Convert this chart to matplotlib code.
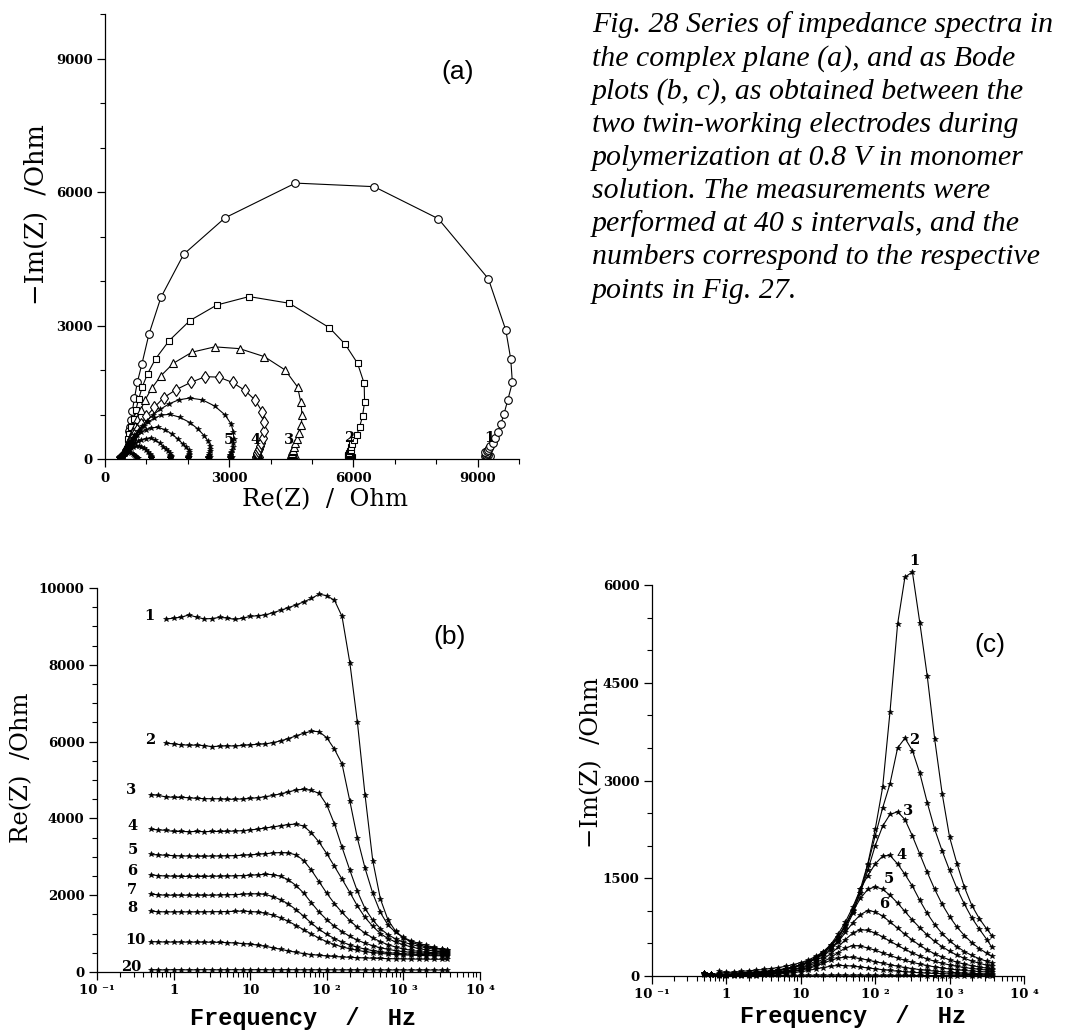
import numpy as np
import matplotlib
matplotlib.use("Agg")
import matplotlib.pyplot as plt
from matplotlib.ticker import MultipleLocator, FixedLocator, NullFormatter, LogLocator

nan = float("nan")

# ---------------- data ----------------
freq_hz = [0.5, 0.63, 0.79, 1.0, 1.26, 1.58, 2.0, 2.51, 3.16, 3.98, 5.01, 6.31, 7.94,
           10, 12.6, 15.8, 20, 25.1, 31.6, 39.8, 50.1, 63.1, 79.4,
           100, 126, 158, 200, 251, 316, 398, 501, 631, 794,
           1000, 1259, 1585, 1995, 2512, 3162, 3700]

re_1 = [nan, nan, 9190, 9215, 9240, 9300, 9240, 9195, 9205, 9235, 9220, 9180, 9215,
        9260, 9280, 9300, 9360, 9420, 9490, 9560, 9640, 9730, 9840,
        9800, 9680, 9260, 8050, 6500, 4600, 2900, 1900, 1350, 1060,
        890, 780, 710, 660, 625, 600, 580]
im_1 = [nan, nan, 70, 55, 60, 70, 80, 90, 100, 115, 130, 150, 175,
        205, 245, 300, 370, 470, 600, 780, 1020, 1330, 1720,
        2250, 2900, 4050, 5400, 6120, 6200, 5420, 4600, 3630, 2800,
        2130, 1720, 1360, 1080, 880, 720, 620]

re_2 = [nan, nan, 5960, 5940, 5920, 5905, 5910, 5895, 5870, 5880, 5890, 5885, 5900,
        5915, 5930, 5940, 5975, 6020, 6080, 6150, 6220, 6270, 6260,
        6100, 5800, 5420, 4450, 3480, 2700, 2050, 1550, 1220, 1030,
        900, 810, 745, 695, 640, 590, 560]
im_2 = [nan, nan, 50, 40, 45, 50, 55, 60, 70, 80, 95, 115, 140,
        170, 210, 260, 330, 420, 540, 720, 960, 1280, 1700,
        2150, 2580, 2950, 3500, 3650, 3460, 3110, 2660, 2250, 1920,
        1620, 1340, 1100, 890, 720, 560, 440]

re_3 = [4620, 4600, 4560, 4550, 4545, 4540, 4520, 4515, 4510, 4510, 4495, 4500, 4505,
        4520, 4540, 4565, 4600, 4640, 4690, 4740, 4760, 4730, 4650,
        4350, 3850, 3250, 2650, 2100, 1650, 1350, 1130, 970, 860,
        780, 720, 670, 630, 590, 560, 540]
im_3 = [40, 30, 25, 20, 30, 40, 45, 55, 60, 75, 90, 110, 135,
        170, 210, 270, 350, 450, 580, 760, 990, 1280, 1620,
        2000, 2300, 2480, 2520, 2400, 2150, 1870, 1590, 1330, 1100,
        910, 750, 620, 510, 420, 350, 305]

re_4 = [3720, 3700, 3690, 3660, 3660, 3655, 3660, 3655, 3660, 3660, 3665, 3670, 3680,
        3700, 3720, 3750, 3780, 3810, 3840, 3850, 3800, 3620, 3380,
        3080, 2750, 2420, 2070, 1720, 1420, 1190, 1000, 870, 780,
        710, 655, 610, 575, 545, 525, 515]
im_4 = [45, 30, 25, 20, 30, 35, 45, 50, 60, 75, 90, 110, 140,
        175, 220, 285, 370, 480, 640, 830, 1060, 1330, 1540,
        1720, 1840, 1850, 1720, 1560, 1380, 1160, 960, 790, 650,
        540, 450, 375, 315, 265, 225, 205]

re_5 = [3060, 3050, 3040, 3030, 3020, 3020, 3015, 3015, 3020, 3020, 3025, 3030, 3040,
        3050, 3065, 3080, 3100, 3110, 3100, 3050, 2900, 2650, 2350,
        2050, 1780, 1550, 1340, 1160, 1010, 890, 790, 710, 650,
        600, 565, 535, 515, 505, 498, 495]
im_5 = [50, 30, 20, 15, 25, 30, 40, 45, 55, 65, 80, 100, 125,
        160, 205, 265, 350, 460, 600, 780, 990, 1190, 1330,
        1370, 1330, 1240, 1120, 990, 860, 740, 630, 530, 450,
        380, 320, 270, 230, 195, 165, 150]

re_6 = [2530, 2510, 2500, 2495, 2490, 2490, 2490, 2490, 2495, 2495, 2500, 2505, 2510,
        2520, 2530, 2545, 2535, 2490, 2400, 2250, 2050, 1800, 1560,
        1360, 1190, 1050, 930, 830, 750, 685, 630, 590, 555,
        530, 510, 495, 482, 476, 472, 470]
im_6 = [45, 30, 20, 15, 20, 25, 30, 35, 45, 55, 65, 80, 100,
        130, 170, 230, 300, 400, 520, 670, 820, 940, 1005,
        985, 920, 830, 735, 640, 550, 470, 400, 340, 290,
        248, 212, 182, 158, 138, 120, 110]

re_7 = [2030, 2010, 2000, 2000, 2000, 2000, 2000, 2000, 2000, 2005, 2010, 2015, 2025,
        2035, 2035, 2020, 1960, 1880, 1770, 1620, 1450, 1270, 1110,
        980, 870, 780, 705, 645, 595, 558, 528, 505, 488,
        475, 465, 457, 451, 446, 442, 440]
im_7 = [40, 25, 20, 15, 20, 22, 25, 30, 35, 45, 55, 75, 95,
        120, 155, 200, 260, 340, 440, 560, 660, 712, 700,
        660, 600, 535, 470, 410, 355, 305, 262, 225, 195,
        170, 148, 130, 115, 102, 92, 86]

re_8 = [1585, 1570, 1565, 1565, 1565, 1565, 1565, 1565, 1570, 1570, 1575, 1580, 1585,
        1575, 1560, 1530, 1480, 1410, 1320, 1210, 1100, 990, 880,
        790, 715, 655, 605, 565, 530, 505, 485, 468, 455,
        445, 437, 431, 427, 424, 422, 420]
im_8 = [35, 25, 20, 15, 18, 20, 22, 25, 30, 38, 45, 60, 78,
        100, 130, 170, 220, 280, 360, 430, 468, 460, 430,
        395, 355, 315, 275, 240, 210, 183, 160, 140, 122,
        107, 95, 85, 76, 68, 62, 58]

re_9 = [1120, 1115, 1110, 1110, 1110, 1110, 1110, 1110, 1110, 1110, 1112, 1110, 1105,
        1095, 1075, 1045, 1000, 945, 880, 810, 740, 680, 630,
        585, 548, 518, 493, 472, 456, 443, 432, 423, 415,
        408, 401, 395, 390, 386, 383, 380]
im_9 = [30, 22, 18, 14, 15, 17, 20, 23, 27, 33, 42, 55, 70,
        90, 115, 150, 195, 240, 275, 290, 285, 268, 245,
        220, 196, 172, 150, 130, 113, 98, 86, 75, 66,
        58, 51, 45, 40, 36, 33, 31]

re_10 = [790, 785, 780, 780, 780, 778, 778, 777, 775, 772, 765, 755, 742,
         725, 700, 668, 630, 590, 550, 512, 480, 455, 435,
         418, 404, 392, 382, 373, 366, 359, 353, 348, 344,
         341, 338, 336, 334, 332, 331, 330]
im_10 = [25, 18, 14, 12, 12, 13, 15, 17, 20, 25, 32, 40, 52,
         66, 85, 108, 130, 150, 162, 160, 150, 138, 124,
         110, 97, 85, 74, 65, 57, 50, 44, 39, 35,
         31, 28, 25, 23, 21, 19, 18]

re_20 = [60, 55, 55, 60, 58, 55, 57, 60, 58, 56, 58, 60, 57,
         58, 60, 58, 57, 58, 60, 58, 57, 56, 58,
         57, 56, 55, 56, 55, 54, 55, 54, 53, 54,
         53, 52, 53, 52, 52, 51, 51]
im_20 = [10, 8, 6, 5, 6, 6, 7, 7, 8, 8, 9, 9, 10,
         10, 11, 11, 12, 12, 12, 12, 12, 12, 11,
         11, 10, 10, 9, 9, 8, 8, 7, 7, 6,
         6, 5, 5, 5, 4, 4, 4]

re_series = {"1": re_1, "2": re_2, "3": re_3, "4": re_4, "5": re_5, "6": re_6,
             "7": re_7, "8": re_8, "9": re_9, "10": re_10, "20": re_20}
im_series = {"1": im_1, "2": im_2, "3": im_3, "4": im_4, "5": im_5, "6": im_6,
             "7": im_7, "8": im_8, "9": im_9, "10": im_10, "20": im_20}

nyquist_curves = ["1", "2", "3", "4", "5", "6", "7", "8", "9", "10"]
bode_re_curves = ["1", "2", "3", "4", "5", "6", "7", "8", "10", "20"]
bode_im_curves = ["1", "2", "3", "4", "5", "6", "7", "8", "9", "10", "20"]

x_decade_ticks = [0.1, 1, 10, 100, 1000, 10000]
x_decade_labels = ["10 \u207b\u00b9", "1", "10", "10 \u00b2", "10 \u00b3", "10 \u2074"]

# curve-number annotations (text anchor points)
a_label_text = ["1", "2", "3", "4", "5"]
a_label_xy = [(9290, 470), (5895, 470), (4448, 434), (3644, 434), (3000, 434)]
b_label_text = ["1", "2", "3", "4", "5", "6", "7", "8", "10", "20"]
b_label_xy = [(0.49, 9260), (0.49, 6050), (0.28, 4750), (0.29, 3790), (0.29, 3185),
              (0.29, 2620), (0.29, 2145), (0.29, 1670), (0.32, 840), (0.28, 130)]
c_label_text = ["1", "2", "3", "4", "5", "6"]
c_label_xy = [(336, 6362), (336, 3622), (275, 2536), (229, 1857), (155, 1490), (133, 1107)]

caption_lines = [
    "Fig. 28 Series of impedance spectra in",
    "the complex plane (a), and as Bode",
    "plots (b, c), as obtained between the",
    "two twin-working electrodes during",
    "polymerization at 0.8 V in monomer",
    "solution. The measurements were",
    "performed at 40 s intervals, and the",
    "numbers correspond to the respective",
    "points in Fig. 27.",
]

# ---------------- figure ----------------
W, H = 1067, 1036
fig = plt.figure(figsize=(W / 100, H / 100), dpi=100)


def fx(px):
    return px / W


def fy(py):
    return 1 - py / H


TICKFONT = dict(family="DejaVu Serif", weight="bold", size=9.5)
NUMFONT = dict(family="DejaVu Serif", weight="bold", size=10.5)


def style_axes(ax):
    for s in ("top", "right"):
        ax.spines[s].set_visible(False)
    for s in ("left", "bottom"):
        ax.spines[s].set_linewidth(0.9)
    ax.tick_params(which="major", direction="out", length=6, width=0.9, pad=3)
    ax.tick_params(which="minor", direction="out", length=3.5, width=0.8)
    for lab in ax.get_xticklabels() + ax.get_yticklabels():
        lab.set_fontfamily(TICKFONT["family"])
        lab.set_fontweight(TICKFONT["weight"])
        lab.set_fontsize(TICKFONT["size"])


f = np.array(freq_hz)

# ---- panel (a): Nyquist ----
ax_a = fig.add_axes([fx(105), fy(459), fx(519) - fx(105), fy(14) - fy(459)])
ax_a.set_xlim(0, 10000)
ax_a.set_ylim(0, 10000)
ax_a.xaxis.set_major_locator(FixedLocator([0, 3000, 6000, 9000]))
ax_a.yaxis.set_major_locator(FixedLocator([0, 3000, 6000, 9000]))
ax_a.xaxis.set_minor_locator(MultipleLocator(1000))
ax_a.yaxis.set_minor_locator(MultipleLocator(1000))

open_markers = {"1": ("o", 5.5), "2": ("s", 4.8), "3": ("^", 5.2), "4": ("d", 6.0)}
for key in nyquist_curves:
    re = np.array(re_series[key], dtype=float)
    im = np.array(im_series[key], dtype=float)
    if key in open_markers:
        mk, ms = open_markers[key]
        ax_a.plot(re, im, color="black", lw=0.8, marker=mk, ms=ms,
                  mfc="white", mec="black", mew=0.8)
    else:
        ax_a.plot(re, im, color="black", lw=0.8, marker="*", ms=4.2,
                  mfc="black", mec="black", mew=0.4)
for txt, (x, y) in zip(a_label_text, a_label_xy):
    ax_a.text(x, y, txt, ha="center", va="center", **NUMFONT)
style_axes(ax_a)
fig.text(fx(458), fy(72), "(a)", ha="center", va="center",
         family="Liberation Sans", size=19)
fig.text(fx(325), fy(500), "Re(Z)  /  Ohm", ha="center", va="center",
         family="DejaVu Serif", size=17.5)
fig.text(fx(36), fy(215), "\u2212Im(Z)  /Ohm", ha="center", va="center",
         rotation=90, family="DejaVu Serif", size=18.5)

# ---- panel (b): Re vs frequency ----
ax_b = fig.add_axes([fx(97), fy(972), fx(480) - fx(97), fy(588) - fy(972)])
ax_b.set_xscale("log")
ax_b.set_xlim(0.1, 10000)
ax_b.set_ylim(0, 10000)
for key in bode_re_curves:
    ax_b.plot(f, re_series[key], color="black", lw=0.8, marker="*", ms=4.2,
              mfc="black", mec="black", mew=0.4)
ax_b.xaxis.set_major_locator(FixedLocator(x_decade_ticks))
ax_b.set_xticklabels(x_decade_labels)
ax_b.xaxis.set_minor_locator(LogLocator(base=10, subs=np.arange(2, 10)))
ax_b.xaxis.set_minor_formatter(NullFormatter())
ax_b.yaxis.set_major_locator(MultipleLocator(2000))
ax_b.yaxis.set_minor_locator(MultipleLocator(500))
for txt, (x, y) in zip(b_label_text, b_label_xy):
    ax_b.text(x, y, txt, ha="center", va="center", **NUMFONT)
style_axes(ax_b)
fig.text(fx(450), fy(637), "(b)", ha="center", va="center",
         family="Liberation Sans", size=19)
fig.text(fx(303), fy(1018), "Frequency  /  Hz", ha="center", va="center",
         family="Liberation Mono", weight="bold", size=17)
fig.text(fx(22), fy(768), "Re(Z)  /Ohm", ha="center", va="center",
         rotation=90, family="DejaVu Serif", size=17.5)

# ---- panel (c): -Im vs frequency ----
ax_c = fig.add_axes([fx(652), fy(976), fx(1024) - fx(652), fy(585) - fy(976)])
ax_c.set_xscale("log")
ax_c.set_xlim(0.1, 10000)
ax_c.set_ylim(0, 6000)
for key in bode_im_curves:
    ax_c.plot(f, im_series[key], color="black", lw=0.8, marker="*", ms=4.2,
              mfc="black", mec="black", mew=0.4, clip_on=False)
ax_c.xaxis.set_major_locator(FixedLocator(x_decade_ticks))
ax_c.set_xticklabels(x_decade_labels)
ax_c.xaxis.set_minor_locator(LogLocator(base=10, subs=np.arange(2, 10)))
ax_c.xaxis.set_minor_formatter(NullFormatter())
ax_c.yaxis.set_major_locator(MultipleLocator(1500))
ax_c.yaxis.set_minor_locator(MultipleLocator(500))
for txt, (x, y) in zip(c_label_text, c_label_xy):
    ax_c.text(x, y, txt, ha="center", va="center", clip_on=False, **NUMFONT)
style_axes(ax_c)
fig.text(fx(990), fy(645), "(c)", ha="center", va="center",
         family="Liberation Sans", size=19)
fig.text(fx(853), fy(1017), "Frequency  /  Hz", ha="center", va="center",
         family="Liberation Mono", weight="bold", size=17)
fig.text(fx(592), fy(763), "\u2212Im(Z)  /Ohm", ha="center", va="center",
         rotation=90, family="DejaVu Serif", size=17.5)

# ---- caption ----
for i, line in enumerate(caption_lines):
    fig.text(fx(592), fy(32 + 33.2 * i), line, ha="left", va="baseline",
             family="Liberation Serif", style="italic", size=21.5)

fig.savefig("out.png", dpi=100)
